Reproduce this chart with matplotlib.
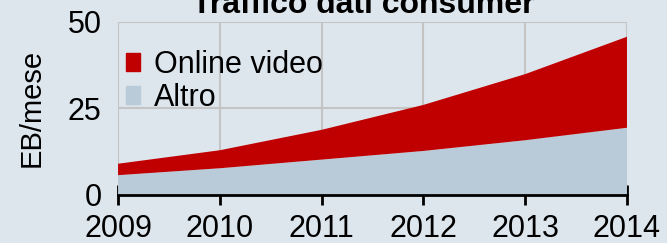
import numpy as np
import matplotlib
matplotlib.use('Agg')
import matplotlib.pyplot as plt
from matplotlib.patches import Patch

years = [2009, 2010, 2011, 2012, 2013, 2014]
altro = [5.7, 7.7, 10.2, 12.7, 15.8, 19.4]
online_video = [3.3, 5.2, 8.6, 13.3, 19.1, 26.3]
labels = ['Online video', 'Altro']

bg = '#dde5ed'
red = '#c00000'
grey_blue = '#b9cbd8'

plt.rcParams['font.family'] = ['Liberation Sans', 'DejaVu Sans']

fig = plt.figure(figsize=(6.67, 2.43), dpi=100, facecolor=bg)
ax = fig.add_axes([0.177, 0.198, 0.763, 0.712])
ax.set_facecolor(bg)

ax.stackplot(years, altro, online_video, colors=[grey_blue, red], lw=0, zorder=2)

ax.set_xlim(2009, 2014)
ax.set_ylim(0, 50)
ax.set_xticks(years)
ax.set_yticks([0, 25, 50])
ax.grid(True, color='#c4c4c4', lw=1.5, zorder=1)
ax.set_axisbelow(True)

for s in ['top', 'right', 'left']:
    ax.spines[s].set_visible(False)
ax.spines['bottom'].set_linewidth(2)
ax.spines['bottom'].set_zorder(5)
ax.tick_params(axis='x', direction='inout', length=14, width=2, labelsize=22, pad=7)
ax.tick_params(axis='y', length=0, labelsize=22, pad=12)
ax.set_ylabel('EB/mese', fontsize=21, labelpad=16)

handles = [Patch(color=red), Patch(color=grey_blue)]
ax.legend(handles, labels, loc='upper left', bbox_to_anchor=(-0.008, 0.91), frameon=False,
          fontsize=22, handlelength=0.45, handleheight=0.55, handletextpad=0.45,
          labelspacing=0.1, borderaxespad=0)

fig.text(0.545, (243 - 13) / 243, 'Traffico dati consumer', ha='center', va='baseline',
         fontsize=23, fontweight='bold')

fig.savefig('out.png', dpi=100, facecolor=bg)
